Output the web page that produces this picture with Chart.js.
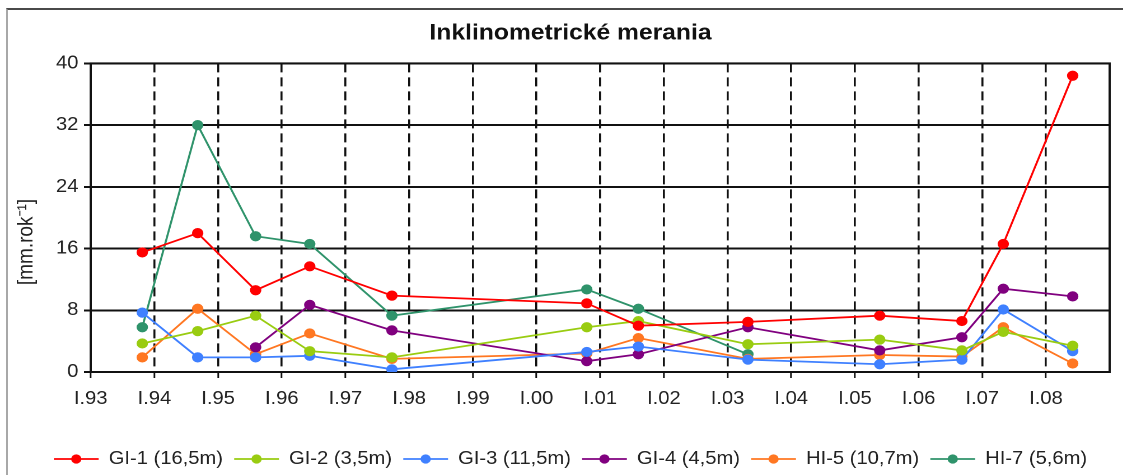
<!DOCTYPE html>
<html>
<head>
<meta charset="utf-8">
<title>Inklinometrické merania</title>
<script src="https://cdn.jsdelivr.net/npm/chart.js@4.4.1/dist/chart.umd.min.js"></script>
<style>
  html, body { margin: 0; padding: 0; background: #fff; overflow: hidden; }
  /* the original picture is a slightly widened Excel chart, so the canvas is stretched the same way */
  #wrap { position: absolute; left: 0; top: 0; width: 1003px; height: 475px; transform: scaleX(1.1197); transform-origin: 0 0; }
  #frame { position: absolute; left: 6px; top: 8px; width: 1300px; height: 600px; border-top: 2px solid #4a4a4a; border-left: 2px solid #a8a8a8; pointer-events: none; }
</style>
</head>
<body>
<div id="wrap"><canvas id="myChart" width="1003" height="475"></canvas></div>
<div id="frame"></div>
<script>
// measurement dates as decimal years
const DATES = [1993.81, 1994.68, 1995.59, 1996.44, 1997.73, 2000.79, 2001.60, 2003.32, 2005.39, 2006.68, 2007.33, 2008.42];

const GI_1 = [15.5, 18.0, 10.6, 13.7, 9.9, 8.9, 6.0, 6.5, 7.3, 6.6, 16.6, 38.4];
const GI_2 = [3.7, 5.3, 7.3, 2.7, 1.9, 5.8, 6.6, 3.6, 4.2, 2.8, 5.2, 3.4];
const GI_3 = [7.7, 1.9, 1.9, 2.1, 0.35, 2.6, 3.3, 1.6, 1.0, 1.6, 8.1, 2.7];
const GI_4 = [null, null, 3.2, 8.7, 5.4, 1.4, 2.3, 5.8, 2.8, 4.5, 10.8, 9.8];
const HI_5 = [1.9, 8.2, 2.3, 5.0, 1.7, 2.4, 4.4, 1.7, 2.2, 2.0, 5.8, 1.1];
const HI_7 = [5.8, 32.0, 17.6, 16.6, 7.3, 10.7, 8.2, 2.3, null, null, null, null];

const LABELS = ["GI-1 (16,5m)", "GI-2 (3,5m)", "GI-3 (11,5m)", "GI-4 (4,5m)", "HI-5 (10,7m)", "HI-7 (5,6m)"];
const COLORS = ["#ff0000", "#99cc11", "#3f80ff", "#80007f", "#ff7722", "#2f936b"];
const SERIES = [GI_1, GI_2, GI_3, GI_4, HI_5, HI_7];

const Y_TICKS = [0, 8, 16, 24, 32, 40];
const X_MIN = 1993;
const X_MAX = 2009;

const TITLE = "Inklinometrické merania";
const Y_TITLE = "[mm.rok\u207B\u00B9]";
const FONT = "'Liberation Sans', Arial, sans-serif";

const datasets = SERIES.map((values, i) => ({
  label: LABELS[i],
  data: DATES.map((d, j) => ({ x: d, y: values[j] })),
  borderColor: COLORS[i],
  backgroundColor: COLORS[i],
  pointBackgroundColor: COLORS[i],
  pointBorderColor: COLORS[i],
  borderWidth: 1.8,
  pointRadius: 4.6,
  pointBorderWidth: 1,
  tension: 0,
}));

const extras = {
  id: "extras",
  beforeDatasetsDraw(chart) {
    // plot frame
    const { ctx, chartArea: a } = chart;
    ctx.save();
    ctx.strokeStyle = "#111";
    ctx.lineWidth = 2;
    ctx.strokeRect(a.left, a.top, a.right - a.left, a.bottom - a.top);
    ctx.restore();
  },
  afterDraw(chart) {
    const { ctx } = chart;
    // y axis title sits a bit below the middle, like in the original
    ctx.save();
    ctx.translate(24, 242);
    ctx.rotate(-Math.PI / 2);
    ctx.font = "19px " + FONT;
    ctx.fillStyle = "#222";
    ctx.textAlign = "center";
    ctx.textBaseline = "middle";
    ctx.fillText(Y_TITLE, 0, 0);
    ctx.restore();

    // dot in the middle of every legend line
    const legend = chart.legend;
    legend.legendItems.forEach((item, i) => {
      const box = legend.legendHitBoxes[i];
      ctx.save();
      ctx.beginPath();
      ctx.arc(box.left + 20, box.top + 9, 4.6, 0, Math.PI * 2);
      ctx.fillStyle = COLORS[i];
      ctx.fill();
      ctx.restore();
    });
  },
};

const config = {
  type: "line",
  data: { datasets: datasets },
  options: {
    responsive: false,
    devicePixelRatio: 2,
    animation: false,
    layout: { padding: { left: 28, right: 12, top: 0, bottom: -3 } },
    scales: {
      x: {
        type: "linear",
        min: X_MIN,
        max: X_MAX,
        afterFit: (scale) => { scale.height = 68; },
        ticks: {
          stepSize: 1,
          autoSkip: false,
          maxRotation: 0,
          padding: 10,
          color: "#222",
          font: { family: FONT, size: 18 },
          callback: (v) => (v === X_MAX ? "" : "I." + String(v).slice(2)),
        },
        grid: {
          color: (c) => (c.tick && (c.tick.value === X_MIN || c.tick.value === X_MAX) ? "rgba(0,0,0,0)" : "#111"),
          lineWidth: 1.8,
          tickLength: 6,
          tickWidth: 1.5,
          tickColor: (c) => (c.tick && c.tick.value === X_MAX ? "rgba(0,0,0,0)" : "#111"),
        },
        border: { display: false, dash: [9, 5] },
      },
      y: {
        min: 0,
        max: 40,
        afterFit: (scale) => { scale.width = 53; },
        afterBuildTicks: (scale) => { scale.ticks = Y_TICKS.map((v) => ({ value: v })); },
        ticks: {
          padding: 5,
          color: "#222",
          font: { family: FONT, size: 18 },
        },
        grid: {
          color: "#111",
          lineWidth: 2,
          tickLength: 6,
          tickColor: "#111",
        },
        border: { display: false },
      },
    },
    plugins: {
      title: {
        display: true,
        text: TITLE,
        color: "#111",
        font: { family: FONT, size: 22, weight: "bold" },
        padding: { top: 20, bottom: 17 },
      },
      legend: {
        position: "bottom",
        labels: {
          usePointStyle: true,
          pointStyleWidth: 40,
          boxHeight: 6,
          padding: 10,
          color: "#222",
          font: { family: FONT, size: 18 },
          generateLabels: (chart) => {
            const items = Chart.defaults.plugins.legend.labels.generateLabels(chart);
            items.forEach((it) => { it.pointStyle = "line"; it.lineWidth = 1.8; });
            return items;
          },
        },
      },
      tooltip: { enabled: false },
    },
  },
  plugins: [extras],
};

const myChart = new Chart(document.getElementById("myChart"), config);
</script>
</body>
</html>
